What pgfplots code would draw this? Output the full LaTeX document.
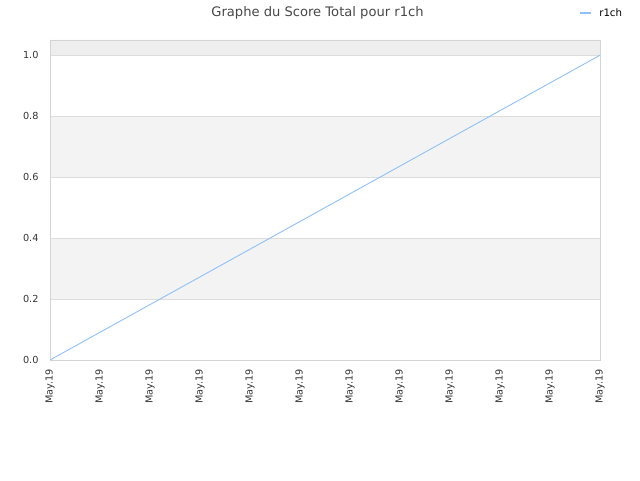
\documentclass[border=0pt]{standalone}
\usepackage{pgfplots}
\pgfplotsset{compat=1.18}
\usepackage{fontspec}
\setmainfont{DejaVu Sans}

\definecolor{bandgray}{HTML}{F3F3F3}
\definecolor{topgray}{HTML}{EEEEEE}
\definecolor{gridgray}{HTML}{DDDDDD}
\definecolor{framegray}{HTML}{D4D4D4}
\definecolor{lineblue}{HTML}{90C0F8}
\definecolor{txt}{HTML}{333333}

\begin{document}
\begin{tikzpicture}
\path (0pt,0pt) rectangle (640pt,480pt);
\node[text=txt!90, font=\fontsize{13.1}{15}\selectfont, anchor=base, inner sep=0pt]
    at (317.5pt,463pt) {Graphe du Score Total pour r1ch};
\begin{axis}[
    set layers,
    at={(50pt,120pt)}, anchor=south west,
    scale only axis, width=550pt, height=320pt,
    xmin=0, xmax=11, ymin=0, ymax=1.05,
    xtick={0,...,11},
    xticklabels={May.19,May.19,May.19,May.19,May.19,May.19,May.19,May.19,May.19,May.19,May.19,May.19},
    ytick={0,0.2,0.4,0.6,0.8,1.0},
    yticklabel style={/pgf/number format/fixed, /pgf/number format/fixed zerofill, /pgf/number format/precision=1},
    /pgf/number format/assume math mode=true,
    xticklabel style={yshift=-6pt, rotate=90, anchor=east, font=\fontsize{9.7}{11}\selectfont, text=txt},
    yticklabel style={xshift=-8pt, font=\fontsize{9.7}{11}\selectfont, text=txt},
    major tick length=0pt,
    ymajorgrids, grid style={gridgray, line width=0.8pt},
    axis line style={framegray, line width=0.8pt},
    legend style={at={(0.962,1.084)}, anchor=west, draw=none, fill=none,
        font=\fontsize{10.2}{12}\selectfont, text=black, inner sep=0pt},
    legend image code/.code={\draw[#1, line width=2pt] (0pt,0pt) -- (11pt,0pt);},
]
\addplot[draw=none, fill=topgray, forget plot, on layer=axis background]
    coordinates {(0,1.0) (11,1.0) (11,1.05) (0,1.05) (0,1.0)};
\addplot[draw=none, fill=bandgray, forget plot, on layer=axis background]
    coordinates {(0,0.6) (11,0.6) (11,0.8) (0,0.8) (0,0.6)};
\addplot[draw=none, fill=bandgray, forget plot, on layer=axis background]
    coordinates {(0,0.2) (11,0.2) (11,0.4) (0,0.4) (0,0.2)};
\addplot[lineblue, line width=0.9pt, mark=none] coordinates {
    (0,0.0) (1,0.0909) (2,0.1818) (3,0.2727) (4,0.3636) (5,0.4545)
    (6,0.5455) (7,0.6364) (8,0.7273) (9,0.8182) (10,0.9091) (11,1.0)
};
\legend{\hspace{5pt}r1ch}
\end{axis}
\end{tikzpicture}
\end{document}
